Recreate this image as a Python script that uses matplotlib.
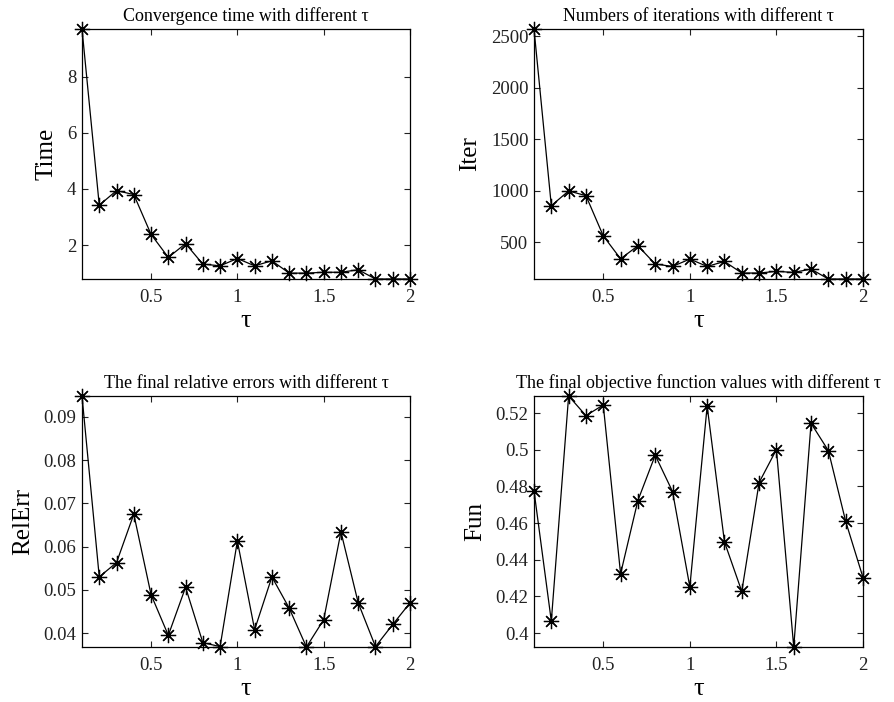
import matplotlib
matplotlib.use("Agg")
import matplotlib.pyplot as plt

tau = [0.1, 0.2, 0.3, 0.4, 0.5, 0.6, 0.7, 0.8, 0.9, 1.0,
       1.1, 1.2, 1.3, 1.4, 1.5, 1.6, 1.7, 1.8, 1.9, 2.0]

time_vals = [9.70, 3.42, 3.94, 3.80, 2.38, 1.56, 2.05, 1.32, 1.26, 1.52,
             1.26, 1.44, 1.00, 1.00, 1.03, 1.03, 1.12, 0.79, 0.79, 0.79]

iter_vals = [2570, 857, 1000, 954, 564, 342, 468, 291, 268, 339,
             268, 316, 204, 204, 220, 210, 242, 146, 146, 146]

relerr_vals = [0.0948, 0.0530, 0.0563, 0.0675, 0.0489, 0.0395, 0.0506, 0.0378, 0.0369, 0.0613,
               0.0408, 0.0530, 0.0458, 0.0368, 0.0431, 0.0634, 0.0470, 0.0369, 0.0420, 0.0470]

fun_vals = [0.4776, 0.4065, 0.5293, 0.5186, 0.5244, 0.4323, 0.4723, 0.4970, 0.4772, 0.4252,
            0.5238, 0.4497, 0.4227, 0.4821, 0.5001, 0.3924, 0.5144, 0.4995, 0.4609, 0.4303]

titles = ["Convergence time with different \u03c4",
          "Numbers of iterations with different \u03c4",
          "The final relative errors with different \u03c4",
          "The final objective function values with different \u03c4"]
ylabels = ["Time", "Iter", "RelErr", "Fun"]
yticks = [[2, 4, 6, 8],
          [500, 1000, 1500, 2000, 2500],
          [0.04, 0.05, 0.06, 0.07, 0.08, 0.09],
          [0.4, 0.42, 0.44, 0.46, 0.48, 0.5, 0.52]]
yticklabels = [["2", "4", "6", "8"],
               ["500", "1000", "1500", "2000", "2500"],
               ["0.04", "0.05", "0.06", "0.07", "0.08", "0.09"],
               ["0.4", "0.42", "0.44", "0.46", "0.48", "0.5", "0.52"]]
xticks = [0.5, 1, 1.5, 2]
xticklabels = ["0.5", "1", "1.5", "2"]

plt.rcParams['font.family'] = ['Liberation Serif', 'DejaVu Serif']

W, H = 894, 702
fig = plt.figure(figsize=(W / 100, H / 100), dpi=100)

# axes boxes in pixels: left, right, top, bottom
boxes = [(82, 410, 29, 279), (534, 863, 29, 279),
         (82, 410, 396, 647), (534, 863, 396, 647)]
series = [time_vals, iter_vals, relerr_vals, fun_vals]

for i in range(4):
    l, r, t, b = boxes[i]
    ax = fig.add_axes([l / W, 1 - b / H, (r - l) / W, (b - t) / H])
    ys = series[i]
    ax.plot(tau, ys, color='black', linewidth=0.9,
            marker=(8, 2, 0), markersize=11, markeredgewidth=0.9,
            markeredgecolor='black', clip_on=False)
    ax.set_xlim(min(tau), max(tau))
    ax.set_ylim(min(ys), max(ys))
    ax.set_xticks(xticks)
    ax.set_xticklabels(xticklabels)
    ax.set_yticks(yticks[i])
    ax.set_yticklabels(yticklabels[i])
    ax.tick_params(axis='both', direction='in', top=True, right=True, length=4,
                   width=0.8, labelsize=13.5, colors='#222222')
    ax.tick_params(axis='x', pad=7)
    ax.tick_params(axis='y', pad=4)
    for s in ax.spines.values():
        s.set_linewidth(0.9)
    ax.set_xlabel("\u03c4", fontsize=19, labelpad=3)
    ax.set_ylabel(ylabels[i], fontsize=18, labelpad=7)
    ax.set_title(titles[i], fontsize=13, pad=6)

fig.savefig("out.png", dpi=100)
